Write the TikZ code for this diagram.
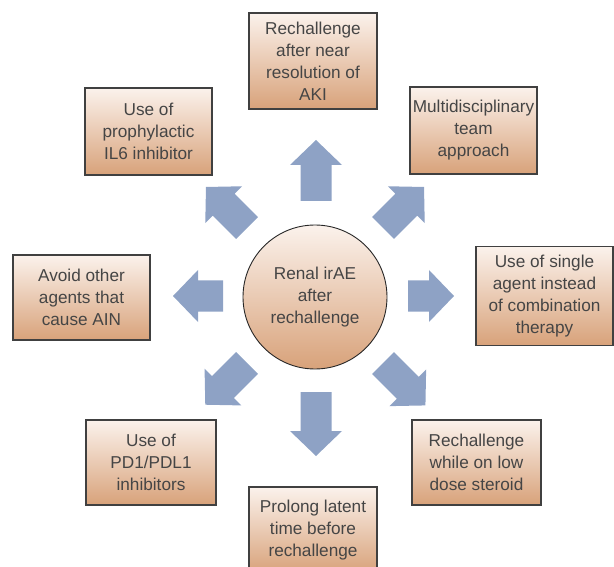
\documentclass[tikz,border=0pt]{standalone}
\usepackage{fontspec}
\setmainfont{Liberation Sans}
\usepackage{xcolor}

\definecolor{boxtop}{HTML}{FBF2EC}
\definecolor{boxbot}{HTML}{D8A27A}
\definecolor{arrblue}{HTML}{8EA2C5}
\definecolor{txtgray}{HTML}{454545}

\tikzset{
  measure/.style={rectangle, draw=black!75, line width=1.1pt, top color=boxtop, bottom color=boxbot,
    text=txtgray, align=center, font=\fontsize{17.2}{22}\selectfont, inner sep=0pt,
    minimum width=128pt, minimum height=86pt},
  hub/.style={circle, draw=black!85, line width=0.9pt, top color=boxtop, bottom color=boxbot,
    text=txtgray, align=center, font=\fontsize{17.2}{22}\selectfont, inner sep=0pt, minimum size=144pt},
  blockarr/.pic={
    \fill[arrblue] (0,-15.5) -- ({#1-25},-15.5) -- ({#1-25},-26) -- (#1,0)
      -- ({#1-25},26) -- ({#1-25},15.5) -- (0,15.5) -- cycle;
  }
}

\begin{document}
\begin{tikzpicture}[x=1pt,y=-1pt]
                \useasboundingbox (0,0) rectangle (614,567);

                \node[hub] (irae) at (315,297) {Renal irAE\\after\\rechallenge};

                \node[measure, minimum height=96pt] (aki) at (313,61) {Rechallenge\\after near\\resolution of\\AKI};
                \node[measure, minimum width=127pt, minimum height=87pt] (il6) at (148.5,131.5) {Use of\\prophylactic\\IL6 inhibitor};
                \node[measure, minimum width=127pt, minimum height=87pt] (team) at (473.5,130.5) {Multidisciplinary\\team\\approach};
                \node[measure, minimum width=137pt, minimum height=85pt] (ain) at (81.5,297.5) {Avoid other\\agents that\\cause AIN};
                \node[measure, minimum width=137pt, minimum height=99pt] (single) at (544.5,296) {Use of single\\agent instead\\of combination\\therapy};
                \node[measure, minimum width=130pt, minimum height=85pt] (pdl1) at (151,462.5) {Use of\\PD1/PDL1\\inhibitors};
                \node[measure, minimum width=129pt, minimum height=85pt] (steroid) at (476.5,462.5) {Rechallenge\\while on low\\dose steroid};
                \node[measure] (latent) at (313,530) {Prolong latent\\time before\\rechallenge};

                \pic[rotate=90] at (316,201) {blockarr=61};
                \pic[rotate=-90] at (316,392) {blockarr=64};
                \pic[rotate=180] at (223,296) {blockarr=50};
                \pic at (408,296) {blockarr=46};
                \pic[rotate=45] at (383,228) {blockarr=58};
                \pic[rotate=135] at (247,228) {blockarr=58};
                \pic[rotate=-135] at (247,363) {blockarr=59};
                \pic[rotate=-45] at (383,363) {blockarr=60};
\end{tikzpicture}
\end{document}
